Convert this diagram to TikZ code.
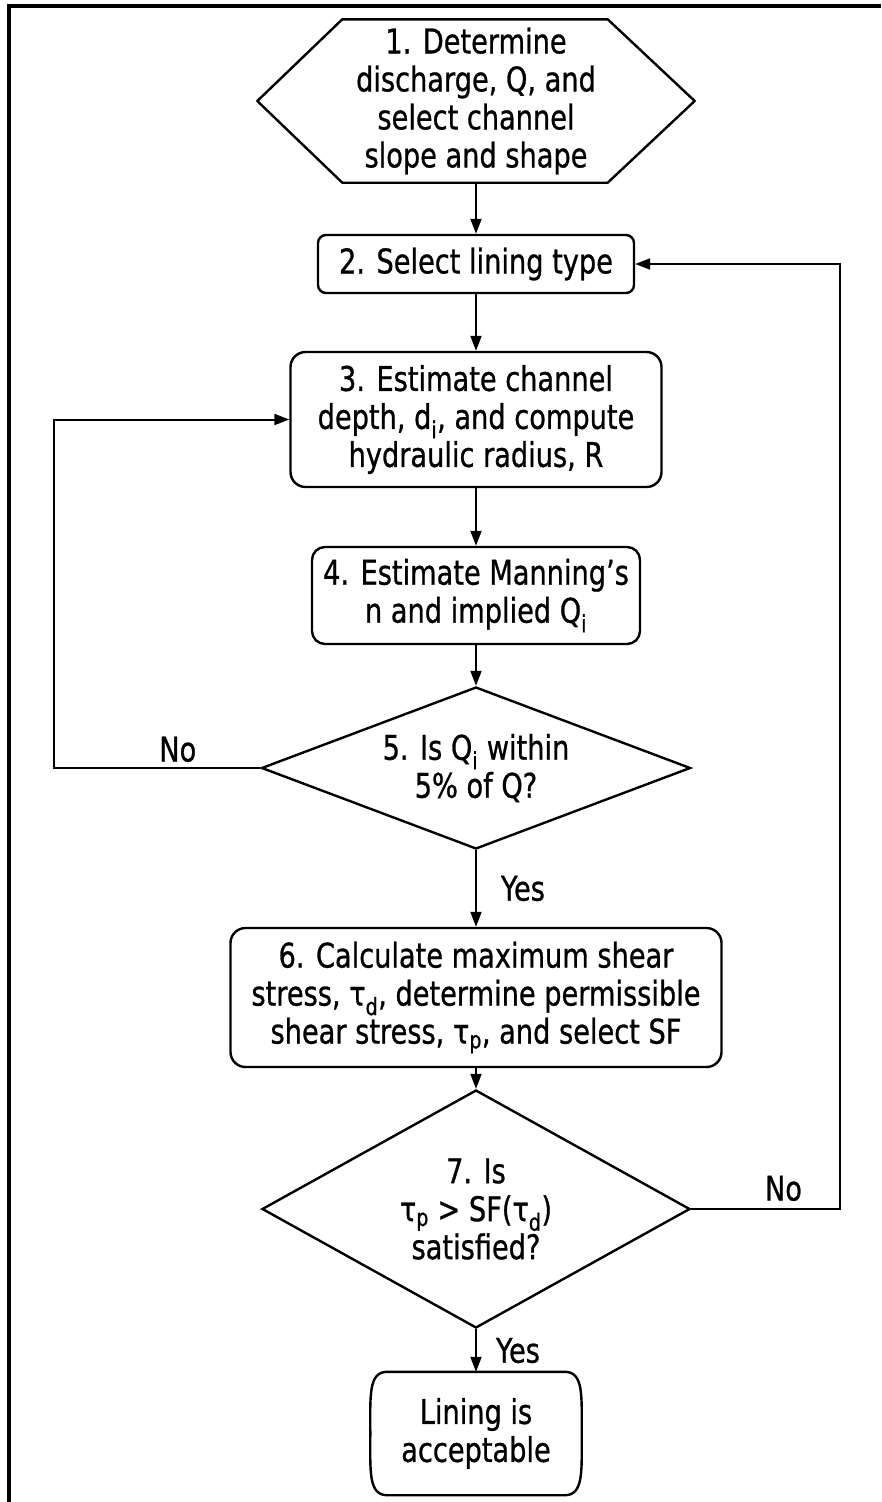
\documentclass[tikz,border=0pt]{standalone}
\usepackage{fontspec}
\setmainfont{DejaVu Sans}[FakeStretch=0.8, FakeBold=0.8]
\usetikzlibrary{arrows.meta,calc,shapes.geometric}
\begin{document}
\begin{tikzpicture}[x=1pt,y=-1pt,
  font=\fontsize{34}{38}\selectfont,
  box/.style={draw, line width=2.4pt, rounded corners=#1, align=center, inner sep=0pt},
  box/.default=12pt,
  decision/.style={draw, line width=2.4pt, diamond, align=center, inner sep=0pt},
  plain/.style={align=center, inner sep=0pt},
  outline/.style={draw, line width=2.4pt, line join=round},
  arr/.style={-{Triangle[length=15pt,width=11pt]}, line width=2pt},
  lbl/.style={inner sep=2pt}
]
\useasboundingbox (0,0) rectangle (881,1502);
\draw[line width=3.5pt] (9,1502) -- (9,6) -- (881,6);

% 1 hexagon
\node[plain, minimum width=437pt, minimum height=163pt] (n1) at (476,101)
  {1. Determine\\discharge, Q, and\\select channel\\slope and shape};
\draw[outline] (n1.west) -- ($(n1.north west)+(85,0)$) -- ($(n1.north east)+(-87,0)$)
  -- (n1.east) -- ($(n1.south east)+(-87,0)$) -- ($(n1.south west)+(85,0)$) -- cycle;

\node[box=8pt, minimum width=316pt, minimum height=58pt] (n2) at (476,264) {2. Select lining type};
\node[box=15pt, minimum width=371pt, minimum height=135pt] (n3) at (476,419.5)
  {3. Estimate channel\\depth, d\textsubscript{i}, and compute\\hydraulic radius, R};
\node[box=13pt, minimum width=328pt, minimum height=97pt] (n4) at (476,595.5)
  {4. Estimate Manning’s\\n and implied Q\textsubscript{i}};
\node[decision, aspect=2.65, minimum width=429pt, minimum height=162pt] (d5) at (476,768)
  {5. Is Q\textsubscript{i} within\\5\% of Q?};
\node[box=15pt, minimum width=491pt, minimum height=139pt] (n6) at (476,997.5)
  {6. Calculate maximum shear\\stress, τ\textsubscript{d}, determine permissible\\shear stress, τ\textsubscript{p}, and select SF};
\node[decision, aspect=1.8, minimum width=428pt, minimum height=238pt] (d7) at (476,1209)
  {7. Is\\τ\textsubscript{p} > SF(τ\textsubscript{d})\\satisfied?};

% terminal
\node[plain, minimum width=211pt, minimum height=123pt] (t8) at (476,1433.5) {Lining is\\acceptable};
\draw[outline] ($(t8.north west)+(17,0)$) -- ($(t8.north east)+(-17,0)$)
  .. controls ($(t8.north east)+(2,0)$) and ($(t8.east)+(0,-38)$) .. (t8.east)
  .. controls ($(t8.east)+(0,38)$) and ($(t8.south east)+(2,0)$) .. ($(t8.south east)+(-17,0)$)
  -- ($(t8.south west)+(17,0)$)
  .. controls ($(t8.south west)+(-2,0)$) and ($(t8.west)+(0,38)$) .. (t8.west)
  .. controls ($(t8.west)+(0,-38)$) and ($(t8.north west)+(-2,0)$) .. cycle;

\coordinate (L) at (54,0);
\coordinate (R) at (840,0);

\draw[arr] (n1.south) -- (n2.north);
\draw[arr] (n2.south) -- (n3.north);
\draw[arr] (n3.south) -- (n4.north);
\draw[arr] (n4.south) -- (d5.north);
\draw[arr] (d5.south) -- node[lbl, right=22pt] {Yes} (n6.north);
\draw[arr] (n6.south) -- (d7.north);
\draw[arr] (d7.south) -- node[lbl, right=17pt] {Yes} (t8.north);
\draw[arr] (d5.west) -- node[lbl, above=3pt, pos=0.4] {No} (d5.west -| L) |- (n3.west);
\draw[arr] (d7.east) -- node[lbl, above=5pt, pos=0.62] {No} (d7.east -| R) |- (n2.east);
\end{tikzpicture}
\end{document}
